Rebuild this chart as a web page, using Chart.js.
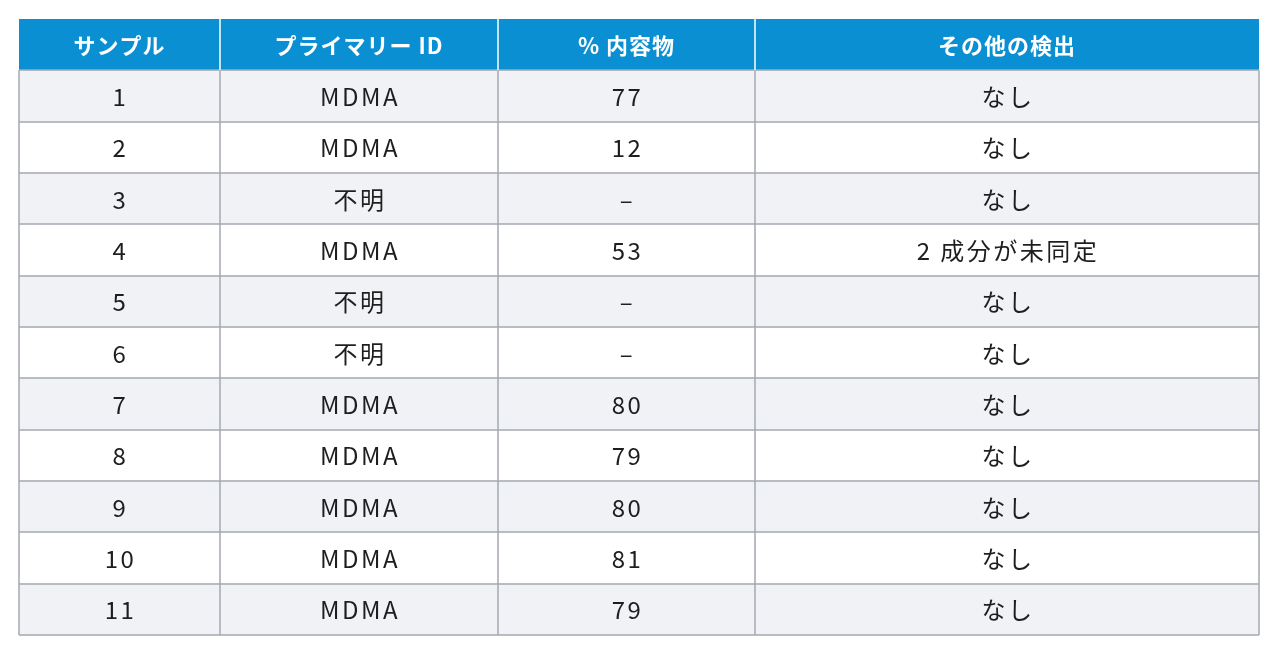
<!DOCTYPE html>
<html><head><meta charset="utf-8">
<script src="https://cdn.jsdelivr.net/npm/chart.js@4"></script>
<style>html,body{margin:0;padding:0;background:#fff}#w{width:1280px;height:659px}</style>
</head><body><div id="w"><canvas id="c"></canvas></div>
<script>
const headers = ["サンプル","プライマリー ID","% 内容物","その他の検出"];
const samples = ["1","2","3","4","5","6","7","8","9","10","11"];
const primaryId = ["MDMA","MDMA","不明","MDMA","不明","不明","MDMA","MDMA","MDMA","MDMA","MDMA"];
const content = ["77","12","–","53","–","–","80","79","80","81","79"];
const other = ["なし","なし","なし","2 成分が未同定","なし","なし","なし","なし","なし","なし","なし"];
const colEdges = [0, 201, 479, 736, 1240];

const font = '"Noto Sans CJK JP","Noto Sans",sans-serif';
const tablePlugin = {
  id: 'table',
  beforeDatasetsDraw(chart) {
    const ctx = chart.ctx, xs = chart.scales.x, ys = chart.scales.y;
    const X = v => xs.getPixelForValue(v), Y = v => ys.getPixelForValue(v);
    const nRows = samples.length + 1;
    const L = X(colEdges[0]), R = X(colEdges[colEdges.length-1]);
    ctx.save();
    ctx.fillStyle = '#0b8fd3';
    ctx.fillRect(L, Y(0), R-L, Y(1)-Y(0));
    for (let r = 1; r < nRows; r++) {
      ctx.fillStyle = (r % 2 === 1) ? '#f1f2f5' : '#ffffff';
      ctx.fillRect(L, Y(r), R-L, Y(r+1)-Y(r));
    }
    ctx.strokeStyle = '#a3a9b0'; ctx.lineWidth = 1.5;
    for (let r = 1; r <= nRows; r++) {
      ctx.beginPath(); ctx.moveTo(L, Math.round(Y(r))); ctx.lineTo(R, Math.round(Y(r))); ctx.stroke();
    }
    ctx.beginPath(); ctx.moveTo(L, Y(1)); ctx.lineTo(L, Y(nRows)); ctx.stroke();
    ctx.beginPath(); ctx.moveTo(R, Y(1)); ctx.lineTo(R, Y(nRows)); ctx.stroke();
    ctx.strokeStyle = '#ffffff';
    for (let i = 1; i < colEdges.length-1; i++) {
      ctx.beginPath(); ctx.moveTo(X(colEdges[i]), Y(0)); ctx.lineTo(X(colEdges[i]), Y(1)); ctx.stroke();
    }
    ctx.strokeStyle = '#a3a9b0';
    for (let i = 1; i < colEdges.length-1; i++) {
      ctx.beginPath(); ctx.moveTo(X(colEdges[i]), Y(1)); ctx.lineTo(X(colEdges[i]), Y(nRows)); ctx.stroke();
    }
    ctx.textAlign = 'center'; ctx.textBaseline = 'middle';
    const cx = i => (X(colEdges[i]) + X(colEdges[i+1])) / 2;
    ctx.fillStyle = '#ffffff'; ctx.font = 'bold 22px ' + font; ctx.letterSpacing = '1px';
    headers.forEach((h, i) => ctx.fillText(h, cx(i), Y(0.5)+1));
    ctx.fillStyle = '#1e1e1e'; ctx.font = '24px ' + font; ctx.letterSpacing = '2.5px';
    const cols = [samples, primaryId, content, other];
    for (let r = 0; r < samples.length; r++) {
      cols.forEach((c, i) => ctx.fillText(c[r], cx(i) + 1, Y(r + 1.5) + 1));
    }
    ctx.restore();
  }
};

new Chart(document.getElementById('c'), {
  type: 'scatter',
  data: { datasets: [{ data: [], pointRadius: 0 }] },
  options: {
    responsive: true, maintainAspectRatio: false, animation: false,
    layout: { padding: { left: 19, right: 21, top: 19, bottom: 24 } },
    plugins: { legend: { display: false }, tooltip: { enabled: false } },
    scales: {
      x: { type: 'linear', display: false, min: colEdges[0], max: colEdges[colEdges.length-1] },
      y: { type: 'linear', display: false, min: 0, max: samples.length + 1, reverse: true }
    }
  },
  plugins: [tablePlugin]
});
</script></body></html>
